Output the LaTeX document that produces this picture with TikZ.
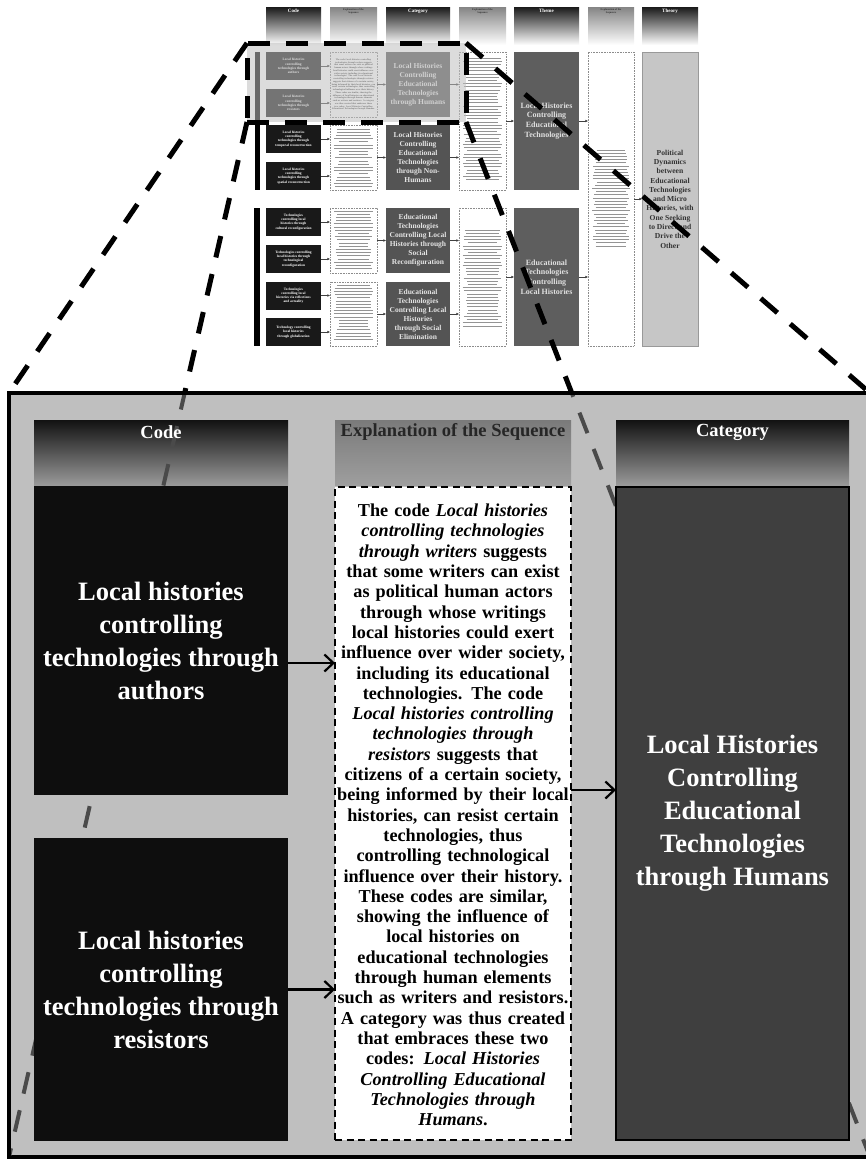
\documentclass[tikz,border=0pt]{standalone}
\usepackage{fontspec}
\setmainfont{Liberation Serif}
\usetikzlibrary{arrows.meta}
\definecolor{panelgray}{HTML}{BFBFBF}
\definecolor{codeblack}{HTML}{0E0E0E}
\definecolor{catdark}{HTML}{3F3F3F}
\definecolor{scatc}{HTML}{545454}
\definecolor{sthemec}{HTML}{5E5E5E}
\definecolor{stheoryc}{HTML}{C6C6C6}
\definecolor{linegray}{HTML}{4A4A4A}
\newcommand{\fs}[2]{\fontsize{#1}{#2}\selectfont}
\newcommand{\fakelines}[4]{%
  \foreach \i in {0,...,#3}{%
    \pgfmathsetmacro\yy{#2+3.2*\i}%
    \pgfmathsetmacro\hw{#4*(0.72+0.28*rnd)}%
    \draw[line width=.9pt, black!42] ({#1-\hw},\yy) -- ({#1+\hw},\yy);}}
\begin{document}
\begin{tikzpicture}[x=1pt,y=-1pt,
  every node/.style={inner sep=0pt,outer sep=0pt},
  codebox/.style={fill=codeblack,text=white,align=center,font=\bfseries\fs{26.5}{33},minimum width=254pt},
  catbox/.style={fill=catdark,draw=black,line width=1.5pt,text=white,align=center,font=\bfseries\fs{26.5}{33}},
  expbox/.style={fill=white,draw=black,line width=2pt,dash pattern=on 7pt off 4.5pt},
  darkhead/.style={top color=black!93,bottom color=black!40},
  lighthead/.style={top color=black!52,bottom color=black!38},
  bigarrow/.style={-{Straight Barb[length=9pt,width=17pt]},line width=2.2pt},
  zoomline/.style={line width=5pt,dash pattern=on 22pt off 17pt},
  innerzoom/.style={line width=4pt,draw=linegray,dash pattern=on 22pt off 17pt},
  sdark/.style={top color=black!90,bottom color=white,minimum height=38pt},
  slight/.style={top color=black!48,bottom color=white,minimum height=38pt},
  shtext/.style={font=\bfseries\fs{5}{6},text=white},
  shexp/.style={font=\bfseries\fs{2.6}{3},align=center,text=black!80},
  scode/.style={fill=black!90,text=white,align=center,font=\bfseries\fs{3.5}{4.2},minimum width=55pt,minimum height=28pt},
  sexp/.style={fill=white,draw=black!45,line width=.6pt,densely dotted},
  scat/.style={fill=scatc,text=black!10,align=center,font=\bfseries\fs{7.5}{9},minimum width=64pt,minimum height=65pt},
  stheme/.style={fill=sthemec,text=black!12,align=center,font=\bfseries\fs{8}{9.8},minimum width=65pt,minimum height=138pt},
  stheory/.style={fill=stheoryc,draw=black!40,line width=.8pt,text=black!80,align=center,font=\bfseries\fs{7.6}{9.3},minimum width=56pt,minimum height=294pt},
  sarrow/.style={-{Latex[length=2.6pt,width=2.6pt]},line width=.5pt,draw=black!75}]
\useasboundingbox (0,0) rectangle (866,1165);
\pgfmathsetseed{12}
% ---------- small overview diagram ----------
\node[sdark,minimum width=55pt] (sh1) at (293.5,26) {};
\node[shtext] (sh1t) at (293.5,11) {Code};
\node[slight,minimum width=47pt] (sh2) at (353.5,26) {};
\node[shexp] (sh2t) at (353.5,11.5) {Explanation of the\\Sequence};
\node[sdark,minimum width=64pt] (sh3) at (418,26) {};
\node[shtext] (sh3t) at (418,11) {Category};
\node[slight,minimum width=47pt] (sh4) at (482.5,26) {};
\node[shexp] (sh4t) at (482.5,11.5) {Explanation of the\\Sequence};
\node[sdark,minimum width=65pt] (sh5) at (546.5,26) {};
\node[shtext] (sh5t) at (546.5,11) {Theme};
\node[slight,minimum width=46pt] (sh6) at (611,26) {};
\node[shexp] (sh6t) at (611,11.5) {Explanation of the\\Sequence};
\node[sdark,minimum width=56pt] (sh7) at (670,26) {};
\node[shtext] (sh7t) at (670,11) {Theory};

\node[fill=black,minimum width=5pt,minimum height=138pt] (bar1) at (257.5,121) {};
\node[fill=black,minimum width=6pt,minimum height=138pt] (bar2) at (257,277) {};

\node[scode] (b1) at (293.5,66) {Local histories\\controlling\\technologies through\\authors};
\node[scode] (b2) at (293.5,103) {Local histories\\controlling\\technologies through\\resistors};
\node[scode] (b3) at (293.5,139) {Local histories\\controlling\\technologies through\\temporal reconstruction};
\node[scode] (b4) at (293.5,176) {Local histories\\controlling\\technologies through\\spatial reconstruction};
\node[scode] (g1) at (293.5,222) {Technologies\\controlling local\\histories through\\cultural reconfiguration};
\node[scode] (g2) at (293.5,259) {Technologies controlling\\local histories through\\technological\\reconfiguration};
\node[scode] (g3) at (293.5,295.5) {Technologies\\controlling local\\histories via reflections\\and actuality};
\node[scode] (g4) at (293.5,332) {Technology controlling\\local histories\\through globalization};

\node[sexp,minimum width=47pt,minimum height=65pt] (e1) at (353.5,84.5) {};
\node[sexp,minimum width=47pt,minimum height=65pt] (e2) at (353.5,157.5) {};
\node[sexp,minimum width=47pt,minimum height=65pt] (e5) at (353.5,240.5) {};
\node[sexp,minimum width=47pt,minimum height=64pt] (e6) at (353.5,314) {};
\node[font=\bfseries\fs{2.3}{2.75},align=center,text width=44pt,text=black!85] (e1t) at (353.5,84.5) {The code \textit{Local histories controlling technologies through writers} suggests that some writers can exist as political human actors through whose writings local histories could exert influence over wider society, including its educational technologies. The code \textit{Local histories controlling technologies through resistors} suggests that citizens of a certain society, being informed by their local histories, can resist certain technologies, thus controlling technological influence over their history. These codes are similar, showing the influence of local histories on educational technologies through human elements such as writers and resistors. A category was thus created that embraces these two codes: \textit{Local Histories Controlling Educational Technologies through Humans}.};
\fakelines{353.5}{129}{18}{20}
\fakelines{353.5}{211}{18}{20}
\fakelines{353.5}{285}{17}{20}

\node[scat] (c1) at (418,84.5) {Local Histories\\Controlling\\Educational\\Technologies\\through Humans};
\node[scat] (c2) at (418,157.5) {Local Histories\\Controlling\\Educational\\Technologies\\through Non-\\Humans};
\node[scat] (c3) at (418,240.5) {Educational\\Technologies\\Controlling Local\\Histories through\\Social\\Reconfiguration};
\node[scat,minimum height=64pt] (c4) at (418,314) {Educational\\Technologies\\Controlling Local\\Histories\\through Social\\Elimination};

\node[sexp,minimum width=47pt,minimum height=138pt] (e3) at (482.5,121) {};
\node[sexp,minimum width=47pt,minimum height=138pt] (e7) at (482.5,277) {};
\fakelines{482.5}{58}{38}{20}
\fakelines{482.5}{230}{30}{20}

\node[stheme] (t1) at (546.5,121) {Local Histories\\Controlling\\Educational\\Technologies};
\node[stheme] (t2) at (546.5,277) {Educational\\Technologies\\Controlling\\Local Histories};

\node[sexp,minimum width=46pt,minimum height=294pt] (e4) at (611,199) {};
\fakelines{611}{150}{30}{19}

\node[stheory] (th) at (670,199) {Political\\Dynamics\\between\\Educational\\Technologies\\and Micro\\Histories, with\\One Seeking\\to Direct and\\Drive the\\Other};

\foreach \a/\b in {b1/e1,b2/e1,b3/e2,b4/e2,g1/e5,g2/e5,g3/e6,g4/e6,e1/c1,e2/c2,e5/c3,e6/c4,c1/e3,c2/e3,c3/e7,c4/e7,e3/t1,e7/t2,t1/e4,t2/e4,e4/th}
  \draw[sarrow] (\a.east) -- (\a.east -| \b.west);

% highlight of the zoomed part
\node[fill=panelgray,fill opacity=.55,draw=black,line width=5pt,dash pattern=on 22pt off 16pt,minimum width=219pt,minimum height=79pt] (hl) at (356.5,82.5) {};

% ---------- enlarged panel ----------
\node[fill=panelgray,draw=black,line width=4pt,minimum width=861pt,minimum height=764pt] (panel) at (439.5,775) {};

\draw[zoomline] (hl.north west) -- (panel.north west);
\draw[zoomline] (hl.north east) -- (panel.north east);
\begin{scope}
  \clip (0,0) rectangle (panel.north east);
  \draw[zoomline] (hl.south west) -- (panel.south west);
  \draw[zoomline] (hl.south east) -- (panel.south east);
\end{scope}

\node[darkhead,minimum width=254pt,minimum height=65pt] (hcode) at (161,452.5) {};
\node[lighthead,minimum width=236pt,minimum height=65pt] (hexp) at (453,452.5) {};
\node[darkhead,minimum width=233pt,minimum height=65pt] (hcat) at (732.5,452.5) {};

\begin{scope}
  \clip ([xshift=2pt,yshift=-2pt]panel.north west) rectangle ([xshift=-2pt,yshift=2pt]panel.south east);
  \draw[innerzoom] (hl.south west) -- (panel.south west);
  \draw[innerzoom] (hl.south east) -- (panel.south east);
\end{scope}

\node[font=\bfseries\fs{18.5}{20},text=white] (hcodet) at (161,432) {Code};
\node[font=\bfseries\fs{18.5}{20},text=black!85] (hexpt) at (453,432) {Explanation of the Sequence};
\node[font=\bfseries\fs{18.5}{20},text=white] (hcatt) at (732.5,432) {Category};

\node[codebox,minimum height=309pt] (cb1) at (161,640.5) {Local histories\\controlling\\technologies through\\authors};
\node[codebox,minimum height=303pt] (cb2) at (161,989.5) {Local histories\\controlling\\technologies through\\resistors};
\node[expbox,minimum width=236pt,minimum height=653pt] (exp) at (453,813.5) {};
\node[catbox,minimum width=233pt,minimum height=653pt] (cat) at (732.5,813.5) {Local Histories\\Controlling\\Educational\\Technologies\\through Humans};

\node[align=center,font=\bfseries\fs{18.2}{20.3},text width=290pt] (exptext) at (453,815) {The code \textit{Local histories}\\
\textit{controlling technologies}\\
\textit{through writers} suggests\\
that some writers can exist\\
as political human actors\\
through whose writings\\
local histories could exert\\
influence over wider society,\\
including its educational\\
technologies. The code\\
\textit{Local histories controlling}\\
\textit{technologies through}\\
\textit{resistors} suggests that\\
citizens of a certain society,\\
being informed by their local\\
histories, can resist certain\\
technologies, thus\\
controlling technological\\
influence over their history.\\
These codes are similar,\\
showing the influence of\\
local histories on\\
educational technologies\\
through human elements\\
such as writers and resistors.\\
A category was thus created\\
that embraces these two\\
codes: \textit{Local Histories}\\
\textit{Controlling Educational}\\
\textit{Technologies through}\\
\textit{Humans}.};

\draw[bigarrow] ([yshift=-22.5pt]cb1.east) -- ([yshift=-22.5pt]cb1.east -| exp.west);
\draw[bigarrow] (cb2.east) -- (cb2.east -| exp.west);
\draw[bigarrow] ([yshift=23.5pt]exp.east) -- ([yshift=23.5pt]exp.east -| cat.west);
\end{tikzpicture}
\end{document}
